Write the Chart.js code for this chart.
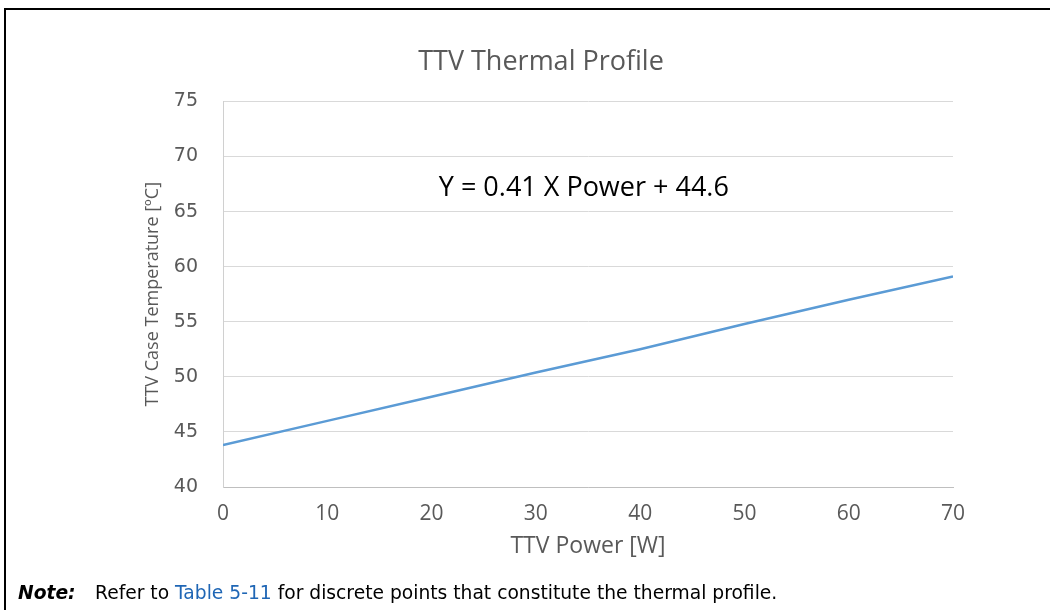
<!DOCTYPE html>
<html>
<head>
<meta charset="utf-8">
<script src="https://cdn.jsdelivr.net/npm/chart.js@4"></script>
<style>
    html, body { margin: 0; padding: 0; background: #fff; }
    #wrap { position: relative; width: 1050px; height: 610px; overflow: hidden; }
    #frame { position: absolute; left: 4px; top: 8px; width: 1060px; height: 620px;
             border-top: 2px solid #000; border-left: 2px solid #000; }
    #chart { position: absolute; left: 0; top: 0; }
    #note { position: absolute; left: 18px; top: 582px; font-family: "DejaVu Sans", Verdana, sans-serif;
            font-size: 18.7px; line-height: 22px; color: #000; white-space: nowrap; }
    #note b { font-style: italic; display: inline-block; width: 77px; }
    #note span { color: #1f66b5; }
</style>
</head>
<body>
<div id="wrap">
    <div id="frame"></div>
    <canvas id="chart" width="1050" height="610"></canvas>
    <div id="note"><b>Note:</b>Refer to <span>Table 5-11</span> for discrete points that constitute the thermal profile.</div>
</div>
<script>
// power values and case temperatures
var powerW = [0, 10, 20, 30, 40, 50, 60, 70];
var caseTemp = [43.8, 46.0, 48.2, 50.4, 52.5, 54.8, 57.0, 59.1];
var equationText = 'Y = 0.41 X Power + 44.6';

// draws the fit equation inside the plot
var equationLabel = {
    id: 'equationLabel',
    afterDatasetsDraw: function (chart) {
        var ctx = chart.ctx;
        var x = chart.scales.x.getPixelForValue(34.6);
        var y = chart.scales.y.getPixelForValue(67.1);
        ctx.save();
        ctx.font = '27px "Open Sans", sans-serif';
        ctx.fillStyle = '#000';
        ctx.textAlign = 'center';
        ctx.textBaseline = 'middle';
        ctx.fillText(equationText, x, y);
        ctx.restore();
    }
};

var ctx = document.getElementById('chart').getContext('2d');
var thermalChart = new Chart(ctx, {
    type: 'line',
    data: {
        labels: powerW,
        datasets: [{
            label: 'TTV Case Temperature',
            data: powerW.map(function (p, i) { return { x: p, y: caseTemp[i] }; }),
            borderColor: '#5b9bd5',
            borderWidth: 2.5,
            pointRadius: 0,
            fill: false,
            tension: 0
        }]
    },
    options: {
        responsive: false,
        animation: false,
        layout: {
            padding: { left: 129, right: 97, top: 23, bottom: 41 }
        },
        plugins: {
            legend: { display: false },
            tooltip: { enabled: false },
            title: {
                display: true,
                text: 'TTV Thermal Profile',
                color: '#595959',
                font: { family: '"Open Sans", sans-serif', size: 27, weight: 'normal' },
                padding: { top: 23, bottom: 23 }
            }
        },
        scales: {
            x: {
                type: 'linear',
                min: 0,
                max: 70,
                afterFit: function (scale) { scale.height = 82; },
                ticks: {
                    stepSize: 10,
                    color: '#595959',
                    padding: 14,
                    font: { family: '"Open Sans", sans-serif', size: 21 }
                },
                grid: { display: false, drawTicks: false },
                border: { display: true, color: '#bfbfbf', width: 1 },
                title: {
                    display: true,
                    text: 'TTV Power [W]',
                    color: '#595959',
                    font: { family: '"Open Sans", sans-serif', size: 23 },
                    padding: { top: 10, bottom: 9 }
                }
            },
            y: {
                min: 40,
                max: 75,
                afterFit: function (scale) { scale.width = 94; },
                ticks: {
                    stepSize: 5,
                    color: '#595959',
                    padding: 25,
                    font: { family: '"DejaVu Sans", Verdana, sans-serif', size: 19 }
                },
                grid: { color: '#d9d9d9', lineWidth: 1, drawTicks: false },
                border: { display: true, color: '#d0d0d0', width: 1 },
                title: {
                    display: true,
                    text: 'TTV Case Temperature [ºC]',
                    color: '#595959',
                    font: { family: '"Open Sans", sans-serif', size: 18 },
                    padding: { top: 13, bottom: 13 }
                }
            }
        }
    },
    plugins: [equationLabel]
});
</script>
</body>
</html>
